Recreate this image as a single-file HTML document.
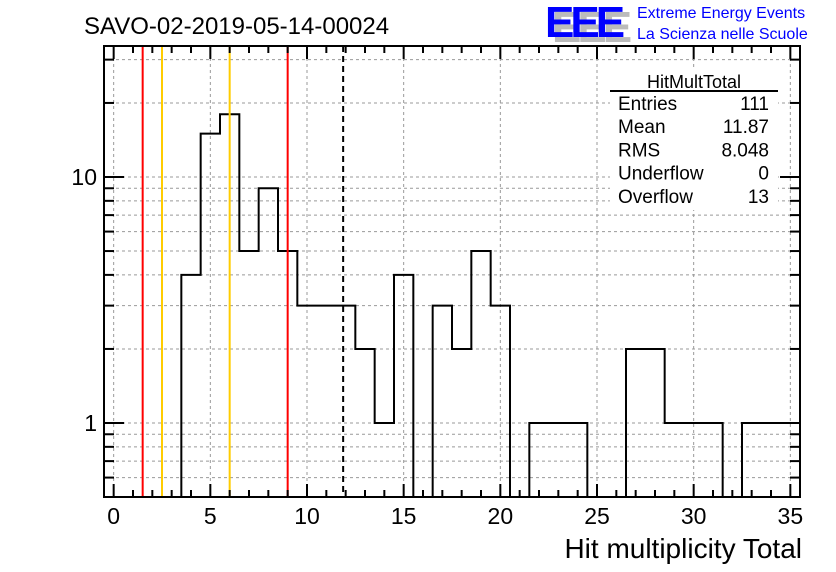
<!DOCTYPE html>
<html><head><meta charset="utf-8"><style>
body{margin:0;background:#fff;}
svg{display:block;font-family:"Liberation Sans",sans-serif;}
</style></head><body>
<svg id="c" width="836" height="572"></svg>
<script>
const binCenters=[0,1,2,3,4,5,6,7,8,9,10,11,12,13,14,15,16,17,18,19,20,21,22,23,24,25,26,27,28,29,30,31,32,33,34,35];
const binCounts=[0,0,0,0,4,15,18,5,9,5,3,3,3,2,1,4,0,3,2,5,3,0,1,1,1,0,0,2,2,1,1,1,0,1,1,1];
const xTicks=[0,5,10,15,20,25,30,35];
const yTickLabels=[1,10];
const vlinesRed=[1.5,9];
const vlinesOrange=[2.5,6];
const meanValue=11.87;
const statsLabels=["Entries","Mean","RMS","Underflow","Overflow"];
const statsValues=["111","11.87","8.048","0","13"];

const L=104,R=800,T=46,B=497;
const xmin=-0.5,xmax=35.5;
const ymin=0.5,y1px=423,y10px=177;
const dec=y1px-y10px;
const X=v=>L+(v-xmin)/(xmax-xmin)*(R-L);
const Y=v=>y1px-Math.log10(v)*dec;
const svg=document.getElementById('c');
const NS='http://www.w3.org/2000/svg';
function mk(tag,attrs,parent){const e=document.createElementNS(NS,tag);for(const k in attrs)e.setAttribute(k,attrs[k]);(parent||svg).appendChild(e);return e;}

const grid=mk('g',{});


xTicks.forEach(t=>mk('line',{x1:X(t),x2:X(t),y1:T,y2:B,stroke:'#999','stroke-dasharray':'3,3','stroke-width':1},grid));
const yGridVals=[];
for(let d=0.1;d<=10;d*=10){for(let m=1;m<10;m++){const v=+(m*d).toFixed(3);const py=Y(v);if(py<B&&py>T)yGridVals.push(v);}}
yGridVals.forEach(v=>mk('line',{x1:L,x2:R,y1:Y(v),y2:Y(v),stroke:'#999','stroke-dasharray':'3,3','stroke-width':1},grid));

let d='';
binCenters.forEach((c,i)=>{
  const v=binCounts[i]>0?binCounts[i]:ymin;
  const x0=X(c-0.5),x1=X(c+0.5);
  if(i===0)d+=`M${x0},${Y(v)}`;else d+=`L${x0},${Y(v)}`;
  d+=`L${x1},${Y(v)}`;
});
const hist=mk('path',{d:d,fill:'none',stroke:'#000','stroke-width':2});



vlinesRed.forEach(v=>{const l=mk('line',{x1:X(v),x2:X(v),y1:T,y2:B,stroke:'#f00','stroke-width':2});

});
vlinesOrange.forEach(v=>{const l=mk('line',{x1:X(v),x2:X(v),y1:T,y2:B,stroke:'#fc0','stroke-width':2});

});
const ml=mk('line',{x1:X(meanValue),x2:X(meanValue),y1:T,y2:B,stroke:'#000','stroke-width':2,'stroke-dasharray':'6,4'});



const fr=mk('rect',{x:L,y:T,width:R-L,height:B-T,fill:'none',stroke:'#000','stroke-width':2});



const xa=mk('g',{});


for(let t=0;t<=35;t++){const maj=t%5===0;const len=maj?13:7;
  mk('line',{x1:X(t),x2:X(t),y1:B,y2:B-len,stroke:'#000','stroke-width':2},xa);
  mk('line',{x1:X(t),x2:X(t),y1:T,y2:T+len,stroke:'#000','stroke-width':2},xa);}
xTicks.forEach(t=>{const tx=mk('text',{x:X(t),y:524,'font-size':23,'text-anchor':'middle'},xa);tx.textContent=t;});
const xt=mk('text',{x:802,y:558,'font-size':28,'text-anchor':'end'});
xt.textContent='Hit multiplicity Total';



const ya=mk('g',{});


yGridVals.forEach(v=>{const maj=(v===1||v===10);const len=maj?20:10;
  mk('line',{x1:L,x2:L+len,y1:Y(v),y2:Y(v),stroke:'#000','stroke-width':2},ya);
  mk('line',{x1:R,x2:R-len,y1:Y(v),y2:Y(v),stroke:'#000','stroke-width':2},ya);});
yTickLabels.forEach(v=>{const tx=mk('text',{x:97,y:Y(v)+8,'font-size':23,'text-anchor':'end'},ya);tx.textContent=v;});

const ti=mk('text',{x:84,y:34,'font-size':24});
ti.textContent='SAVO-02-2019-05-14-00024';



const lg=mk('g',{});


const sh=mk('text',{x:552,y:42,'font-size':44,fill:'#bbb','font-weight':'bold','letter-spacing':'-4'},lg);sh.textContent='EEE';
const fg=mk('text',{x:545,y:37,'font-size':44,fill:'#00f','font-weight':'bold','letter-spacing':'-4'},lg);fg.textContent='EEE';
const l1=mk('text',{x:637,y:18,'font-size':16,fill:'#00f'},lg);l1.textContent='Extreme Energy Events';
const l2=mk('text',{x:637,y:39,'font-size':16,fill:'#00f'},lg);l2.textContent='La Scienza nelle Scuole';

const st=mk('g',{});


mk('rect',{x:610,y:70,width:168,height:140,fill:'#fff'},st);
const sn=mk('text',{x:694,y:88,'font-size':18,'text-anchor':'middle'},st);sn.textContent='HitMultTotal';
mk('line',{x1:610,x2:778,y1:91,y2:91,stroke:'#000','stroke-width':2},st);
statsLabels.forEach((s,i)=>{const y=110+i*23.2;
  const a=mk('text',{x:618,y:y,'font-size':19},st);a.textContent=s;
  const b=mk('text',{x:769,y:y,'font-size':19,'text-anchor':'end'},st);b.textContent=statsValues[i];});
</script>
</body></html>
